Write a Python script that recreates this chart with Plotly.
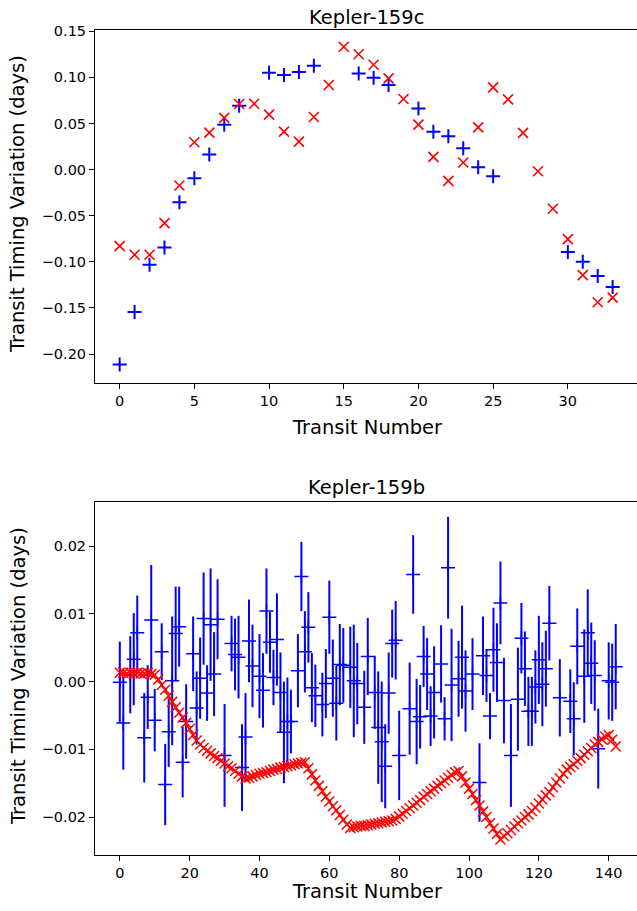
import plotly.graph_objects as go

# ---------------- Kepler-159c (top panel) ----------------
c_blue_n = [0, 1, 2, 3, 4, 5, 6, 7, 8, 10, 11, 12, 13, 16, 17, 18, 20, 21, 22, 23, 24, 25, 30, 31, 32, 33]
c_blue_ttv = [-0.2114, -0.1544, -0.1032, -0.0844, -0.0355, -0.0094, 0.0162, 0.0487, 0.0693, 0.1050,
              0.1025, 0.1057, 0.1126, 0.1042, 0.0996, 0.0917, 0.0663, 0.0411, 0.0360, 0.0230,
              0.0025, -0.0073, -0.0895, -0.0999, -0.1155, -0.1274]
c_red_n = list(range(34))
c_red_ttv = [-0.0830, -0.0923, -0.0923, -0.0580, -0.0173, 0.0296, 0.0400, 0.0560, 0.0711, 0.0714,
             0.0595, 0.0411, 0.0303, 0.0570, 0.0917, 0.1331, 0.1250, 0.1136, 0.0988, 0.0765,
             0.0487, 0.0137, -0.0122, 0.0076, 0.0458, 0.0891, 0.0761, 0.0397, -0.0018, -0.0425,
             -0.0754, -0.1144, -0.1439, -0.1389]

# ---------------- Kepler-159b (bottom panel) ----------------
b_obs_n = [0, 1, 3, 4, 5, 7, 8, 9, 10, 12, 13, 14, 15, 16, 17, 18, 19, 21, 22, 23, 24, 25, 26, 27, 28,
           30, 32, 33, 34, 35, 36, 37, 38, 40, 41, 42, 43, 44, 45, 46, 47, 48, 49, 51, 52, 53, 54,
           55, 56, 58, 59, 60, 61, 62, 63, 64, 66, 67, 68, 70, 71, 73, 74, 75, 76, 77, 78, 79, 80,
           83, 84, 85, 86, 87, 88, 89, 90, 92, 93, 94, 95, 97, 98, 99, 101, 103, 104, 105, 106,
           107, 108, 109, 110, 112, 114, 115, 116, 117, 118, 119, 120, 121, 122, 123, 126, 129,
           130, 131, 133, 134, 135, 136, 137, 140, 141, 142]
b_obs_ttv = [-0.0001, -0.0061, 0.0010, 0.0033, 0.0072, -0.0083, -0.0023, 0.0091, -0.0057, 0.0044,
             -0.0152, -0.0074, 0.0001, 0.0071, 0.0081, -0.0119, -0.0059, 0.0041, -0.0039, 0.0005,
             0.0093, -0.0017, 0.0084, 0.0011, 0.0092, -0.0109, 0.0056, 0.0040, 0.0036, -0.0127,
             -0.0082, 0.0060, 0.0023, 0.0008, -0.0013, 0.0104, 0.0058, 0.0006, 0.0062, -0.0016,
             -0.0075, -0.0059, -0.0059, 0.0016, 0.0155, 0.0044, 0.0080, -0.0009, -0.0021, -0.0034,
             -0.0003, 0.0095, 0.0005, -0.0032, 0.0025, 0.0024, 0.0021, 0.0001, -0.0003, -0.0038,
             0.0037, -0.0016, -0.0068, -0.0089, -0.0125, -0.0017, 0.0056, 0.0061, -0.0109, -0.0040,
             0.0158, -0.0059, -0.0052, 0.0037, 0.0011, -0.0051, -0.0016, 0.0026, -0.0055, 0.0168,
             -0.0005, 0.0004, 0.0036, -0.0014, 0.0011, -0.0149, 0.0038, 0.0009, -0.0051, 0.0047,
             0.0028, 0.0116, -0.0028, -0.0109, -0.0026, 0.0064, 0.0019, -0.0044, -0.0044, -0.0008,
             0.0032, -0.0004, 0.0019, 0.0086, -0.0024, -0.0029, -0.0055, 0.0052, 0.0008, 0.0072,
             0.0027, 0.0009, -0.0099, 0.0001, -0.0001, 0.0022]
b_obs_err = [0.0060, 0.0069, 0.0057, 0.0068, 0.0055, 0.0066, 0.0047, 0.0081, 0.0046, 0.0042,
             0.0060, 0.0052, 0.0095, 0.0069, 0.0059, 0.0052, 0.0055, 0.0055, 0.0054, 0.0060,
             0.0068, 0.0041, 0.0083, 0.0062, 0.0059, 0.0076, 0.0041, 0.0053, 0.0061, 0.0064,
             0.0065, 0.0061, 0.0061, 0.0062, 0.0055, 0.0063, 0.0045, 0.0041, 0.0068, 0.0059,
             0.0075, 0.0065, 0.0047, 0.0054, 0.0051, 0.0060, 0.0052, 0.0051, 0.0046, 0.0047,
             0.0051, 0.0054, 0.0057, 0.0055, 0.0060, 0.0055, 0.0060, 0.0083, 0.0060, 0.0054,
             0.0057, 0.0054, 0.0083, 0.0089, 0.0062, 0.0060, 0.0050, 0.0058, 0.0066, 0.0068,
             0.0058, 0.0063, 0.0047, 0.0045, 0.0053, 0.0044, 0.0068, 0.0057, 0.0032, 0.0075,
             0.0083, 0.0056, 0.0076, 0.0060, 0.0053, 0.0058, 0.0058, 0.0039, 0.0034, 0.0062,
             0.0058, 0.0061, 0.0063, 0.0076, 0.0076, 0.0052, 0.0055, 0.0051, 0.0051, 0.0054,
             0.0065, 0.0062, 0.0056, 0.0055, 0.0057, 0.0047, 0.0054, 0.0056, 0.0069, 0.0064,
             0.0060, 0.0052, 0.0059, 0.0057, 0.0057, 0.0063]

b_model_n = list(range(143))
b_model_ttv = [0.0013, 0.0013, 0.0012, 0.0013, 0.0012, 0.0013, 0.0012, 0.0012, 0.0013, 0.0011,
               0.0010, 0.0003, -0.0005, -0.0012, -0.0021, -0.0030, -0.0038, -0.0046, -0.0053, -0.0061,
               -0.0070, -0.0079, -0.0087, -0.0093, -0.0098, -0.0102, -0.0106, -0.0110, -0.0113, -0.0117,
               -0.0121, -0.0125, -0.0128, -0.0132, -0.0136, -0.0140, -0.0143, -0.0142, -0.0140, -0.0138,
               -0.0136, -0.0135, -0.0134, -0.0132, -0.0130, -0.0129, -0.0127, -0.0126, -0.0125, -0.0124,
               -0.0122, -0.0121, -0.0120, -0.0119, -0.0128, -0.0137, -0.0146, -0.0154, -0.0162, -0.0170,
               -0.0177, -0.0184, -0.0190, -0.0197, -0.0204, -0.0211, -0.0216, -0.0215, -0.0214, -0.0213,
               -0.0213, -0.0212, -0.0211, -0.0210, -0.0209, -0.0208, -0.0207, -0.0206, -0.0205, -0.0203,
               -0.0199, -0.0195, -0.0191, -0.0187, -0.0183, -0.0179, -0.0175, -0.0170, -0.0166, -0.0162,
               -0.0158, -0.0154, -0.0150, -0.0146, -0.0142, -0.0138, -0.0134, -0.0132, -0.0140, -0.0149,
               -0.0158, -0.0166, -0.0175, -0.0183, -0.0192, -0.0200, -0.0209, -0.0217, -0.0225, -0.0233,
               -0.0228, -0.0224, -0.0219, -0.0214, -0.0209, -0.0205, -0.0200, -0.0196, -0.0191, -0.0186,
               -0.0180, -0.0174, -0.0168, -0.0163, -0.0156, -0.0149, -0.0143, -0.0136, -0.0130, -0.0126,
               -0.0122, -0.0117, -0.0113, -0.0108, -0.0103, -0.0098, -0.0093, -0.0089, -0.0085, -0.0081,
               -0.0079, -0.0086, -0.0096]

W, H = 637, 911
FONT = "DejaVu Sans"

fig = go.Figure()

# top panel
fig.add_trace(go.Scatter(x=c_blue_n, y=c_blue_ttv, mode="markers", xaxis="x", yaxis="y",
                         marker=dict(symbol="cross-thin", size=10, line=dict(width=2, color="blue")),
                         showlegend=False))
fig.add_trace(go.Scatter(x=c_red_n, y=c_red_ttv, mode="markers", xaxis="x", yaxis="y",
                         marker=dict(symbol="x-thin", size=10, line=dict(width=1.6, color="red")),
                         showlegend=False))

# bottom panel
fig.add_trace(go.Scatter(x=b_obs_n, y=b_obs_ttv, mode="markers", xaxis="x2", yaxis="y2",
                         error_y=dict(type="data", array=b_obs_err, visible=True,
                                      thickness=2, width=0, color="blue"),
                         marker=dict(symbol="cross-thin", size=10, line=dict(width=1.5, color="blue")),
                         showlegend=False))
fig.add_trace(go.Scatter(x=b_model_n, y=b_model_ttv, mode="lines+markers", xaxis="x2", yaxis="y2",
                         line=dict(color="red", width=1),
                         marker=dict(symbol="x-thin", size=10, line=dict(width=1.5, color="red")),
                         showlegend=False))

def px_x(p):
    return p / W

def px_y(p):
    return 1 - p / H

axis_common = dict(showline=True, mirror=True, linecolor="black", linewidth=1,
                   ticks="outside", ticklen=5, tickwidth=1, tickcolor="black",
                   showgrid=False, zeroline=False, automargin=False,
                   tickfont=dict(family=FONT, size=14.5, color="black"))

fig.update_layout(
    width=W, height=H,
    margin=dict(l=0, r=0, t=0, b=0, pad=0, autoexpand=False),
    paper_bgcolor="white", plot_bgcolor="white",
    xaxis=dict(domain=[px_x(95), 1.0], range=[-1.65, 34.63], anchor="y",
               tickmode="linear", tick0=0, dtick=5, **axis_common),
    yaxis=dict(domain=[px_y(383), px_y(30)], range=[-0.2314, 0.1513], anchor="x",
               tickmode="linear", tick0=0, dtick=0.05, tickformat=".2f", **axis_common),
    xaxis2=dict(domain=[px_x(95), 1.0], range=[-7.1, 148.1], anchor="y2",
                tickmode="linear", tick0=0, dtick=20, **axis_common),
    yaxis2=dict(domain=[px_y(855), px_y(502)], range=[-0.0256, 0.0265], anchor="x2",
                tickmode="linear", tick0=0, dtick=0.01, tickformat=".2f", **axis_common),
)

label_font = dict(family=FONT, size=19.5, color="black")
annotations = [
    dict(text="Kepler-159c", x=px_x(366), y=px_y(17), xref="paper", yref="paper",
         showarrow=False, font=label_font, xanchor="center", yanchor="middle"),
    dict(text="Kepler-159b", x=px_x(366), y=px_y(487), xref="paper", yref="paper",
         showarrow=False, font=label_font, xanchor="center", yanchor="middle"),
    dict(text="Transit Number", x=px_x(367), y=px_y(427), xref="paper", yref="paper",
         showarrow=False, font=label_font, xanchor="center", yanchor="middle"),
    dict(text="Transit Number", x=px_x(367), y=px_y(891), xref="paper", yref="paper",
         showarrow=False, font=label_font, xanchor="center", yanchor="middle"),
    dict(text="Transit Timing Variation (days)", x=px_x(18), y=px_y(204), xref="paper", yref="paper",
         showarrow=False, font=label_font, textangle=-90, xanchor="center", yanchor="middle"),
    dict(text="Transit Timing Variation (days)", x=px_x(18), y=px_y(676), xref="paper", yref="paper",
         showarrow=False, font=label_font, textangle=-90, xanchor="center", yanchor="middle"),
]
fig.update_layout(annotations=annotations)

fig.write_html("out.html",
               config={"displayModeBar": False},
               post_script="document.body.style.margin='0';document.body.style.overflow='hidden';")
